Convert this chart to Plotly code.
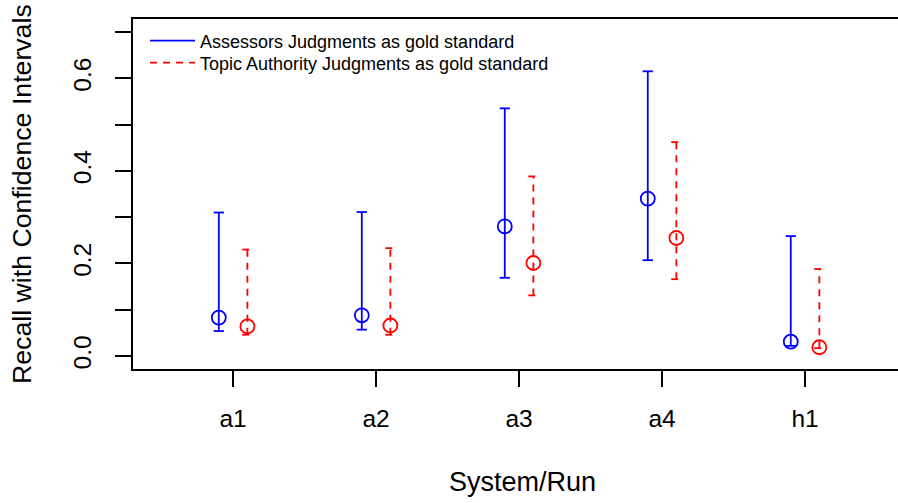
import plotly.graph_objects as go

# ---- data ----
systems = ["a1", "a2", "a3", "a4", "h1"]
assessor_recall = [0.083, 0.088, 0.280, 0.340, 0.031]
assessor_lower = [0.054, 0.057, 0.169, 0.207, 0.022]
assessor_upper = [0.310, 0.311, 0.535, 0.615, 0.259]
ta_recall = [0.064, 0.066, 0.201, 0.255, 0.019]
ta_lower = [0.046, 0.046, 0.131, 0.166, 0.017]
ta_upper = [0.230, 0.233, 0.388, 0.462, 0.188]
y_ticks = [0.0, 0.1, 0.2, 0.3, 0.4, 0.5, 0.6, 0.7]
y_tick_labels = ["0.0", "", "0.2", "", "0.4", "", "0.6", ""]

FONT = "Liberation Sans, Arial, Helvetica, sans-serif"
OFFSET = 0.1
CAP = 0.036

pos = [i + 1 for i in range(len(systems))]


def segments(xs, lo, hi):
    sx, sy = [], []
    for x, a, b in zip(xs, lo, hi):
        sx += [x, x, None]
        sy += [a, b, None]
    for x, a, b in zip(xs, lo, hi):
        for v in (a, b):
            sx += [x - CAP, x + CAP, None]
            sy += [v, v, None]
    return sx, sy


fig = go.Figure()

series = [
    ("Assessors Judgments as gold standard", "blue", "solid", -OFFSET,
     assessor_recall, assessor_lower, assessor_upper, "legend"),
    ("Topic Authority Judgments as gold standard", "red", "7px,6px", OFFSET,
     ta_recall, ta_lower, ta_upper, "legend2"),
]

for name, color, dash, off, mid, lo, hi, leg in series:
    xs = [p + off for p in pos]
    sx, sy = segments(xs, lo, hi)
    fig.add_trace(go.Scatter(
        x=sx, y=sy, mode="lines", name=name, legend=leg,
        line=dict(color=color, width=1.8, dash=dash),
        hoverinfo="skip",
    ))
    fig.add_trace(go.Scatter(
        x=xs, y=mid, mode="markers", showlegend=False,
        marker=dict(symbol="circle-open", size=14, color=color,
                    line=dict(color=color, width=1.8)),
    ))

leg_common = dict(xanchor="left", yanchor="top", bgcolor="rgba(0,0,0,0)",
                  font=dict(size=18, family=FONT), itemwidth=45,
                  x=(145 - 133) / 765)

fig.update_layout(
    width=898, height=503,
    margin=dict(l=133, r=0, t=19, b=134),
    paper_bgcolor="white", plot_bgcolor="white",
    font=dict(family=FONT, color="black"),
    showlegend=True,
    legend=dict(y=1 - (22.5 - 19) / 350, **leg_common),
    legend2=dict(y=1 - (44.5 - 19) / 350, **leg_common),
    xaxis=dict(
        range=[0.30, 5.65],
        tickvals=pos, ticktext=systems,
        showline=True, mirror=True, linecolor="black", linewidth=1.5,
        ticks="outside", ticklen=16, tickwidth=1.5, tickcolor="black",
        showgrid=False, zeroline=False,
        tickfont=dict(size=24.5, family=FONT),
        ticklabelstandoff=11,
    ),
    yaxis=dict(
        range=[-0.028, 0.728],
        tickvals=y_ticks, ticktext=y_tick_labels,
        showline=True, mirror=False, linecolor="black", linewidth=1.5,
        ticks="outside", ticklen=16, tickwidth=1.5, tickcolor="black",
        showgrid=False, zeroline=False,
        tickangle=-90,
        tickfont=dict(size=24.5, family=FONT),
        ticklabelstandoff=14,
    ),
    annotations=[
        dict(text="System/Run", xref="paper", yref="paper",
             x=(522 - 133) / 765, y=-(482 - 369) / 350,
             xanchor="center", yanchor="middle", showarrow=False,
             font=dict(size=27, family=FONT)),
        dict(text="Recall with Confidence Intervals", xref="paper", yref="paper",
             x=-(133 - 22) / 765, y=(369 - 194) / 350, textangle=-90,
             xanchor="center", yanchor="middle", showarrow=False,
             font=dict(size=26.7, family=FONT)),
    ],
)

fig.write_html("out.html")
